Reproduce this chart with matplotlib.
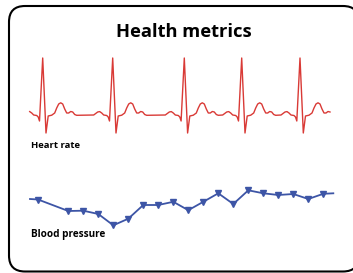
import matplotlib
matplotlib.use("Agg")
import matplotlib.pyplot as plt
from matplotlib.patches import FancyBboxPatch

# ---- data (pixel-like units) ----
title = "Health metrics"
label_hr = "Heart rate"
label_bp = "Blood pressure"

# ECG: R-peak positions and one beat shape (offset from R, level)
r_peaks = [42.7, 112.7, 184.3, 241.7, 300.0]
beat_dx = [-19, -17, -15, -13, -11, -9, -6, -4.5, -3.2, 0, 3.3, 5.5, 9, 12,
           14, 16, 18, 20, 22, 24, 26, 28, 30, 32, 34]
beat_y = [115, 113.5, 112, 111.6, 113, 115, 115.5, 117, 121, 58, 133, 116, 115.2, 113,
          108, 104, 102.8, 104, 109, 113, 113, 111.5, 112, 114.5, 115.3]
ecg_start, ecg_end = 29.5, 330.5

# Blood pressure series
bp_line_x = [30.0, 333.3]
bp_line_y = [199.0, 193.3]
bp_x = [38.0, 68.3, 83.3, 98.3, 113.3, 128.3, 143.3, 158.3, 173.3, 188.3,
        203.3, 218.3, 233.3, 248.3, 263.3, 278.3, 293.3, 308.3, 323.3]
bp_y = [199.5, 211, 210.7, 214, 225.3, 218.7, 205, 205, 201.8, 210.2,
        201.8, 193.3, 204, 190.3, 193.3, 195, 194, 199, 193.8]

W, H = 353, 273
fig = plt.figure(figsize=(W / 100, H / 100), dpi=100)
ax = fig.add_axes([0, 0, 1, 1])
ax.set_xlim(0, W)
ax.set_ylim(H, 0)
ax.axis("off")

# Frame
frame = FancyBboxPatch((9, 6), 350, 265.5,
                       boxstyle="round,pad=0,rounding_size=16",
                       fc="white", ec="black", lw=1.5, zorder=0)
ax.add_patch(frame)

# ECG trace
ex, ey = [], []
for r in r_peaks:
    for dx, yy in zip(beat_dx, beat_y):
        x = r + dx
        if ecg_start <= x <= ecg_end:
            ex.append(x)
            ey.append(yy)
ax.plot(ex, ey, color="#d93a36", lw=1.0, solid_joinstyle="round", zorder=2)

# Blood pressure
all_x = [bp_line_x[0]] + bp_x + [bp_line_x[1]]
all_y = [bp_line_y[0]] + bp_y + [bp_line_y[1]]
ax.plot(all_x, all_y, color="#3d55a6", lw=1.3, zorder=2)
ax.plot(bp_x, bp_y, ls="none", marker="v", ms=4.2, color="#3d55a6", zorder=3)

# Text
ax.text(184, 32, title, ha="center", va="center", fontsize=13.2,
        fontweight="bold", family="Open Sans", color="black")
ax.text(31, 145, label_hr, ha="left", va="center", fontsize=6.8,
        fontweight="bold", family="Open Sans", color="black")
ax.text(31, 234, label_bp, ha="left", va="center", fontsize=7.2,
        fontweight="bold", family="Open Sans", color="black")

fig.savefig("out.png", dpi=100)
